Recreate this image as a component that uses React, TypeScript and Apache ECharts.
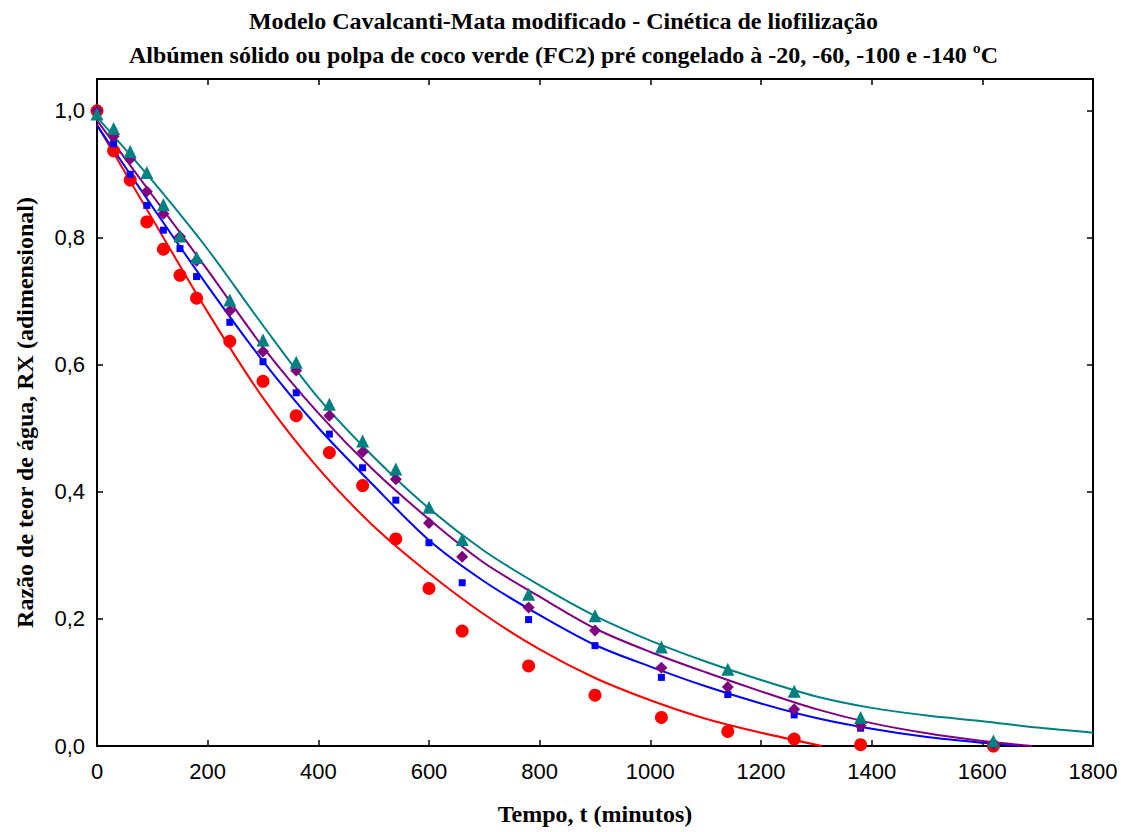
import React, { useEffect, useRef } from "react";
import * as echarts from "echarts";

const titleLine1 = "Modelo Cavalcanti-Mata modificado - Cinética de liofilização";
const titleLine2 = "Albúmen sólido ou polpa de coco verde (FC2) pré congelado à -20, -60, -100 e -140 ºC";
const xName = "Tempo, t (minutos)";
const yName = "Razão de teor de água, RX (adimensional)";

// experimental times (min)
const times = [0, 30, 60, 90, 120, 150, 180, 240, 300, 360, 420, 480, 540, 600, 660, 780, 900, 1020, 1140, 1260, 1380, 1620];
// measured RX
const rx20 = [1.0, 0.937, 0.891, 0.825, 0.782, 0.741, 0.705, 0.637, 0.574, 0.52, 0.462, 0.41, 0.326, 0.248, 0.181, 0.126, 0.08, 0.045, 0.023, 0.011, 0.002, 0.0];
const rx60 = [1.0, 0.948, 0.9, 0.851, 0.812, 0.783, 0.739, 0.667, 0.605, 0.556, 0.491, 0.438, 0.387, 0.32, 0.257, 0.199, 0.158, 0.108, 0.081, 0.049, 0.028, 0.003];
const rx100 = [1.0, 0.96, 0.924, 0.873, 0.838, 0.802, 0.764, 0.685, 0.621, 0.591, 0.52, 0.463, 0.42, 0.351, 0.298, 0.218, 0.182, 0.123, 0.093, 0.058, 0.032, 0.003];
const rx140 = [0.995, 0.972, 0.936, 0.903, 0.852, 0.803, 0.769, 0.702, 0.639, 0.604, 0.538, 0.48, 0.436, 0.376, 0.325, 0.239, 0.205, 0.156, 0.121, 0.086, 0.045, 0.008];

// fitted curves
const fit20T = [0, 100, 200, 300, 400, 500, 600, 700, 800, 900, 1000, 1100, 1200, 1310];
const fit20V = [0.978, 0.83, 0.683, 0.548, 0.437, 0.346, 0.272, 0.207, 0.152, 0.107, 0.072, 0.043, 0.021, 0.0];
const fit60T = [0, 100, 200, 300, 400, 500, 600, 700, 800, 900, 1000, 1100, 1200, 1300, 1400, 1500, 1600, 1670];
const fit60V = [0.977, 0.849, 0.724, 0.606, 0.501, 0.41, 0.324, 0.259, 0.206, 0.159, 0.125, 0.094, 0.067, 0.044, 0.027, 0.014, 0.005, 0.0];
const fit100T = [0, 100, 200, 300, 400, 500, 600, 700, 800, 900, 1000, 1100, 1200, 1300, 1400, 1500, 1600, 1690];
const fit100V = [0.985, 0.867, 0.749, 0.628, 0.524, 0.434, 0.357, 0.288, 0.235, 0.185, 0.148, 0.116, 0.086, 0.058, 0.036, 0.02, 0.008, 0.0];
const fit140T = [0, 100, 200, 300, 400, 500, 600, 700, 800, 900, 1000, 1100, 1200, 1300, 1400, 1500, 1600, 1700, 1800];
const fit140V = [0.99, 0.89, 0.782, 0.662, 0.548, 0.455, 0.374, 0.307, 0.253, 0.205, 0.166, 0.133, 0.104, 0.078, 0.06, 0.048, 0.039, 0.029, 0.021];

const xTicks = [0, 200, 400, 600, 800, 1000, 1200, 1400, 1600, 1800];
const yTicks = [0, 0.2, 0.4, 0.6, 0.8, 1.0];

const colors = { c20: "#FF0000", c60: "#0000FF", c100: "#800080", c140: "#008080" };

const zip = (a: number[], b: number[]) => a.map((v, i) => [v, b[i]]);

export default function App() {
  const ref = useRef<HTMLDivElement>(null);
  useEffect(() => {
    document.body.style.margin = "0";
    if (!ref.current) return;
    const chart = echarts.init(ref.current, null, { renderer: "svg" });
    const serif = "'Liberation Serif', 'Times New Roman', serif";
    const sans = "'Liberation Sans', Arial, sans-serif";
    const axisLine = { show: true, onZero: false, lineStyle: { color: "#000", width: 2 } };
    const tick = { show: true, inside: true, length: 6, lineStyle: { color: "#000", width: 1.5 } };
    const xBase = { type: "value", min: xTicks[0], max: xTicks[xTicks.length - 1], interval: xTicks[1] - xTicks[0], splitLine: { show: false }, axisLine, axisTick: tick };
    const yBase = { type: "value", min: 0, max: 1.05, interval: yTicks[1] - yTicks[0], splitLine: { show: false }, axisLine, axisTick: tick };
    const lineSeries = (name: string, t: number[], v: number[], color: string) => ({
      name, type: "line", data: zip(t, v), symbol: "none", smooth: 0.3,
      lineStyle: { color, width: 2 }, z: 2,
    });
    const scatter = (name: string, v: number[], color: string, symbol: string, size: number) => ({
      name, type: "scatter", data: zip(times, v), symbol, symbolSize: size,
      itemStyle: { color, opacity: 1 }, z: 3, clip: false,
    });
    chart.setOption({
      animation: false,
      backgroundColor: "#fff",
      title: [
        { text: titleLine1, left: "center", top: 4, textStyle: { fontFamily: serif, fontWeight: "bold", fontSize: 24, color: "#000" } },
        { text: titleLine2, left: "center", top: 38, textStyle: { fontFamily: serif, fontWeight: "bold", fontSize: 24, color: "#000" } },
      ],
      grid: { left: 97, right: 34, top: 79, bottom: 86, containLabel: false },
      xAxis: [
        {
          ...xBase, position: "bottom",
          axisLabel: { color: "#000", fontSize: 22, fontFamily: sans, margin: 14, formatter: (v: number) => String(v) },
          name: xName, nameLocation: "middle", nameGap: 56,
          nameTextStyle: { fontFamily: serif, fontWeight: "bold", fontSize: 24, color: "#000" },
        },
        { ...xBase, position: "top", axisLabel: { show: false } },
      ],
      yAxis: [
        {
          ...yBase, position: "left",
          axisLabel: {
            color: "#000", fontSize: 22, fontFamily: sans, margin: 12, showMaxLabel: false,
            formatter: (v: number) => (yTicks.some((t) => Math.abs(t - v) < 1e-6) ? v.toFixed(1).replace(".", ",") : ""),
          },
          name: yName, nameLocation: "middle", nameGap: 60,
          nameTextStyle: { fontFamily: serif, fontWeight: "bold", fontSize: 24, color: "#000" },
        },
        { ...yBase, position: "right", axisLabel: { show: false } },
      ],
      series: [
        lineSeries("fit -20", fit20T, fit20V, colors.c20),
        lineSeries("fit -60", fit60T, fit60V, colors.c60),
        lineSeries("fit -100", fit100T, fit100V, colors.c100),
        lineSeries("fit -140", fit140T, fit140V, colors.c140),
        scatter("-20 ºC", rx20, colors.c20, "circle", 13),
        scatter("-60 ºC", rx60, colors.c60, "rect", 7),
        scatter("-100 ºC", rx100, colors.c100, "diamond", 12),
        scatter("-140 ºC", rx140, colors.c140, "triangle", 13),
      ],
    });
    return () => chart.dispose();
  }, []);
  return <div ref={ref} style={{ position: "absolute", left: 0, top: 0, width: 1127, height: 832 }} />;
}
